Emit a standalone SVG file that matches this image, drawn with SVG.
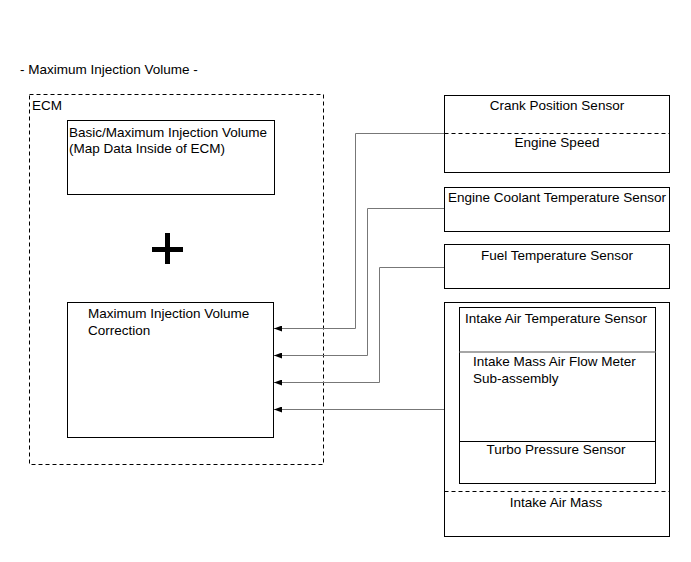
<svg xmlns="http://www.w3.org/2000/svg" width="691" height="562" viewBox="0 0 691 562">
<style>
text{font-family:"Liberation Sans",Arial,sans-serif;font-size:13.5px;fill:#000}
.box{fill:#fff;stroke:#000;stroke-width:1}
.dash{fill:none;stroke:#000;stroke-width:1;stroke-dasharray:4 3}
.conn{fill:none;stroke:#777;stroke-width:1}
.mid{text-anchor:middle}
</style>
<defs>
<marker id="arr" markerWidth="8" markerHeight="6" refX="8" refY="3" orient="auto" markerUnits="userSpaceOnUse">
<path d="M0,0 L8,3 L0,6 Z" fill="#000"/>
</marker>
</defs>
<rect width="691" height="562" fill="#fff"/>
<text x="20" y="74">- Maximum Injection Volume -</text>
<g id="ecm">
<rect class="dash" x="29.5" y="94.5" width="294" height="370"/>
<text x="32" y="110">ECM</text>
</g>
<g id="basic">
<rect class="box" x="67.5" y="120.5" width="207" height="74"/>
<text x="69" y="137">Basic/Maximum Injection Volume</text>
<text x="69" y="153">(Map Data Inside of ECM)</text>
</g>
<g id="plus">
<rect x="152" y="247" width="31" height="5" fill="#000"/>
<rect x="165" y="233" width="5" height="31" fill="#000"/>
</g>
<g id="correction">
<rect class="box" x="67.5" y="302.5" width="206" height="135"/>
<text x="88" y="318">Maximum Injection Volume</text>
<text x="88" y="335">Correction</text>
</g>
<g id="crank">
<rect class="box" x="444.5" y="95.5" width="225" height="77"/>
<line class="dash" x1="444.5" y1="133.5" x2="669.5" y2="133.5"/>
<text class="mid" x="557" y="110">Crank Position Sensor</text>
<text class="mid" x="557" y="147">Engine Speed</text>
</g>
<g id="coolant">
<rect class="box" x="444.5" y="187.5" width="225" height="44"/>
<text class="mid" x="557" y="202">Engine Coolant Temperature Sensor</text>
</g>
<g id="fuel">
<rect class="box" x="444.5" y="244.5" width="225" height="44"/>
<text class="mid" x="557" y="260">Fuel Temperature Sensor</text>
</g>
<g id="intake">
<rect class="box" x="444.5" y="302.5" width="225" height="234"/>
<rect class="box" x="459.5" y="307.5" width="196" height="176"/>
<line x1="459.5" y1="352" x2="655.5" y2="352" stroke="#888" stroke-width="1.5"/>
<line x1="459.5" y1="441.5" x2="655.5" y2="441.5" stroke="#000" stroke-width="1"/>
<line class="dash" x1="444.5" y1="491.5" x2="669.5" y2="491.5"/>
<text class="mid" x="556" y="323">Intake Air Temperature Sensor</text>
<text x="473" y="366">Intake Mass Air Flow Meter</text>
<text x="473" y="383">Sub-assembly</text>
<text class="mid" x="556" y="454">Turbo Pressure Sensor</text>
<text class="mid" x="556" y="507">Intake Air Mass</text>
</g>
<g id="connectors">
<polyline class="conn" points="444,133.5 355.5,133.5 355.5,328.5 274,328.5" marker-end="url(#arr)"/>
<polyline class="conn" points="444,208.5 367.5,208.5 367.5,355.5 274,355.5" marker-end="url(#arr)"/>
<polyline class="conn" points="444,267.5 379.5,267.5 379.5,382.5 274,382.5" marker-end="url(#arr)"/>
<polyline class="conn" points="444,409.5 274,409.5" marker-end="url(#arr)"/>
</g>
</svg>
